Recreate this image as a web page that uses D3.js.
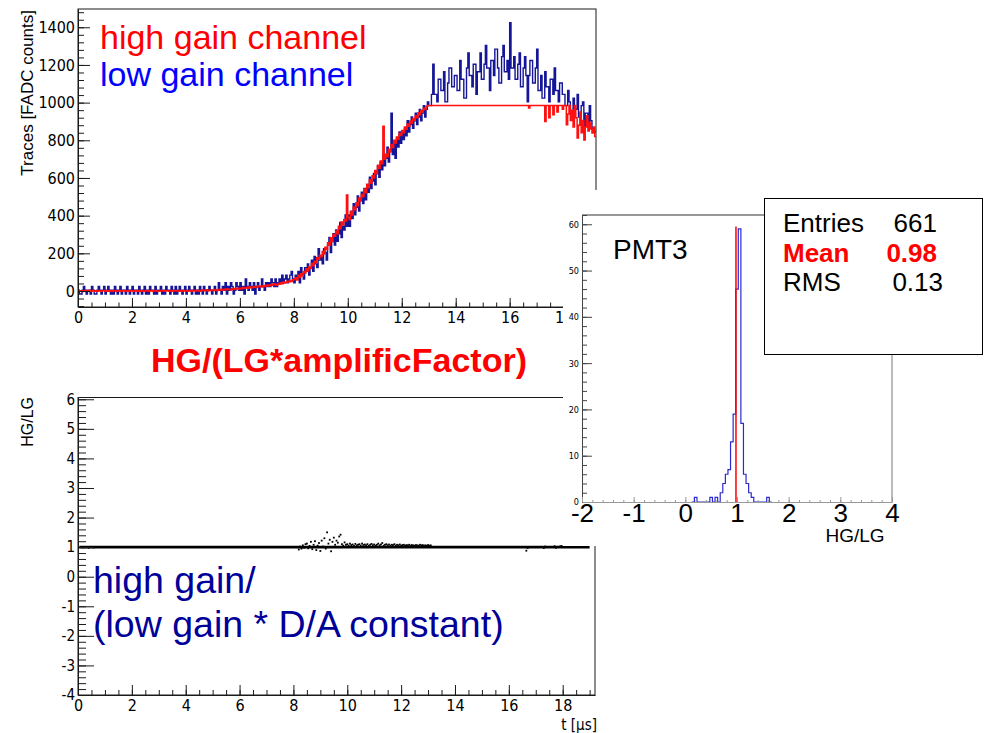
<!DOCTYPE html>
<html><head><meta charset="utf-8">
<script src="https://cdn.jsdelivr.net/npm/d3@7"></script>
<style>
html,body{margin:0;padding:0;background:#fff;}
svg{display:block;}
</style></head><body>
<svg id="chart" width="988" height="733"></svg>
<script>
// ---------- FADC traces, one value per 0.05 µs sample ----------
const sampleWidth = 0.05;
const lowGainTrace = [
  4,-16,-16,4,24,4,-16,4,4,-16, 24,4,-16,-16,4,24,4,-16,4,24,
  -16,4,24,4,-16,4,-16,24,4,-16, 4,24,-16,4,4,-16,24,4,-16,4,
  24,-16,4,4,-16,24,4,-16,4,24, -16,4,-16,24,4,4,-16,24,-16,4,
  4,24,-16,4,-16,24,4,4,-16,24, 4,-16,24,-16,4,24,4,-16,4,24,
  -16,4,24,4,-16,4,24,-16,4,-16, 24,4,-16,24,4,-16,4,24,4,-16,
  4,24,-16,4,44,4,-16,24,4,44, -16,24,4,44,24,-16,4,44,24,4,
  44,4,24,-16,64,24,4,44,24,4, 44,-16,24,44,4,24,64,24,4,44,
  24,44,24,64,44,24,64,24,44,64, 44,84,44,64,84,44,64,84,104,64,
  44,84,64,104,44,124,84,64,124,104, 144,84,124,164,104,184,144,124,224,164,
  184,144,224,204,164,244,284,204,264,304, 244,324,264,304,364,284,344,324,404,344,
  404,344,424,384,464,404,444,504,424,484, 524,464,544,484,564,524,604,544,584,624,
  564,624,664,604,684,644,724,664,704,764, 684,744,944,724,784,704,804,764,844,784,
  844,804,864,824,904,844,884,924,864,904, 944,884,924,964,904,944,984,924,964,1004,
  984,984,1044,1204,1044,1044,1004,1124,1124,1064, 1064,1164,1004,1004,1104,1184,1184,1084,1084,1144,
  1144,1064,1064,1224,1124,1124,1024,1024,1184,1264, 1144,1144,1084,1204,1204,1044,1164,1164,1264,1124,
  1124,1204,1304,1184,1184,1064,1224,1224,1144,1284, 1284,1184,1104,1104,1244,1304,1164,1164,1224,1124,
  1424,1184,1184,1244,1124,1124,1204,1264,1084,1084, 1184,1244,1144,1004,1144,1224,1224,1104,1104,1184,
  1284,1064,1064,1144,1024,1024,1164,1084,1084,1004, 1124,1124,1044,1184,1064,1064,1004,1104,1104,1044,
  1044,984,984,1064,1004,944,944,1024,964,964, 1044,924,924,984,1004,864,944,944,884,984,
  904,864,864,844
];
const highGainTrace = [
  2,-1,1,-3,0,2,-2,1,3,-1, 0,2,-2,1,-1,3,0,-2,1,2,
  -1,1,-2,2,0,-3,1,2,-1,0, 2,-2,1,0,3,-1,1,-2,2,0,
  1,-2,0,2,-1,3,-2,1,0,-1, 2,1,-3,0,2,-1,1,3,-2,0,
  -1,2,0,1,-2,3,1,-1,0,2, -2,1,3,0,-1,2,-2,1,0,3,
  1,-1,2,0,-2,3,1,4,0,2, -1,3,5,1,2,6,0,4,2,5,
  3,7,4,2,8,5,9,4,7,10, 6,11,8,5,12,9,13,10,14,11,
  15,12,18,14,16,20,15,22,17,19, 24,20,18,26,22,25,21,28,24,30,
  27,32,28,35,31,38,34,30,40,36, 44,39,48,42,46,52,48,56,50,60,
  62,70,58,84,72,92,80,104,96,118, 106,128,120,146,134,158,150,176,168,190,
  182,210,196,232,220,256,244,282,262,300, 290,318,304,344,330,366,350,380,372,510,
  392,378,420,404,446,430,468,452,494,478, 512,500,540,522,566,548,590,572,612,600,
  640,622,668,652,690,676,875,700,726,712, 752,738,778,762,800,786,818,806,838,826,
  852,840,870,858,886,874,902,890,916,906, 930,920,946,936,958,950,970,964,980,985,
  985,985,985,985,985,985,985,985,985,985, 985,985,985,985,985,985,985,985,985,985,
  985,985,985,985,985,985,985,985,985,985, 985,985,985,985,985,985,985,985,985,985,
  985,985,985,985,985,985,985,985,985,985, 985,985,985,985,985,985,985,985,985,985,
  985,985,985,985,985,985,985,985,985,985, 985,985,985,985,972,985,985,985,985,985,
  985,985,985,985,985,985,900,985,985,920, 985,985,935,985,985,950,985,985,985,965,
  985,985,882,940,985,905,960,870,985,920, 812,880,950,840,905,802,870,930,850,895,
  860,839,870,820
];
const traceTicksY = [0,200,400,600,800,1000,1200,1400];
const timeTicks = [0,2,4,6,8,10,12,14,16,18];

// ---------- HG/LG ratio per sample ----------
const ratioT = [
  0.1,0.2,0.3,0.4,0.5,0.6,
  8.2,8.25,8.3,8.35,8.4,8.45,8.5,8.55,8.6,8.65,8.7,8.75,8.8,8.85,8.9,8.95,
  9.0,9.05,9.1,9.15,9.2,9.25,9.3,9.35,9.4,9.45,9.5,9.55,9.6,9.65,9.7,9.75,9.8,9.85,9.9,9.95,
  10.0,10.05,10.1,10.15,10.2,10.25,10.3,10.35,10.4,10.45,10.5,10.55,10.6,10.65,10.7,10.75,10.8,10.85,10.9,10.95,
  11.0,11.05,11.1,11.15,11.2,11.25,11.3,11.35,11.4,11.45,11.5,11.55,11.6,11.65,11.7,11.75,11.8,11.85,11.9,11.95,
  12.0,12.05,12.1,12.15,12.2,12.25,12.3,12.35,12.4,12.45,12.5,12.55,12.6,12.65,12.7,12.75,12.8,12.85,12.9,12.95,
  13.0,13.05,13.1,
  16.65,16.7,17.3,17.35,17.7,17.75,17.9,17.95,18.2
];
const ratioValue = [
  1.0,0.99,1.0,0.98,1.0,0.99,
  0.92,1.02,0.95,1.06,0.98,1.1,1.12,0.96,1.04,1.18,0.93,1.08,1.2,0.9,1.05,1.14,
  0.87,1.22,1.02,1.3,0.95,1.5,1.12,1.25,0.86,1.18,1.32,1.08,1.22,1.15,1.36,1.42,1.1,1.05,1.16,1.08,
  1.1,1.05,1.12,1.07,1.09,1.04,1.11,1.06,1.08,1.1,1.05,1.12,1.07,1.09,1.06,1.1,1.04,1.08,1.11,1.06,
  1.09,1.05,1.08,1.12,1.06,1.09,1.14,1.05,1.08,1.1,1.06,1.09,1.05,1.08,1.07,1.1,1.05,1.08,1.06,1.09,
  1.05,1.07,1.08,1.05,1.07,1.06,1.08,1.05,1.07,1.06,1.05,1.07,1.06,1.05,1.08,1.06,1.07,1.05,1.06,1.05,
  1.07,1.05,1.06,
  0.88,0.97,0.97,1.02,1.03,0.98,1.02,1.04,1.0
];
const ratioTicksY = [-4,-3,-2,-1,0,1,2,3,4,5,6];

// ---------- PMT3 HG/LG histogram ----------
const histFirstEdge = 0.125;
const histBinWidth = 0.05;
const histCounts = [
  0,1,0,0,0,0,0,1,0,1,0,2,4,6,7,13,19,46,59,17,6,4,2,1,0,0,0,0,0,1,0
];
const histTicksX = [-2,-1,0,1,2,3,4];
const histTicksY = [0,10,20,30,40,50,60];
const statNames = ["Entries","Mean","RMS"];
const statValues = ["661","0.98","0.13"];
const meanValue = 0.98;

// ---------- drawing ----------
const svg = d3.select("#chart");
const narrow = '"Liberation Sans Narrow","DejaVu Sans Condensed",sans-serif';
const sans = '"Liberation Sans",Arial,sans-serif';
const axisColor = "#1a1a1a";
const range = (a, b, s) => d3.range(Math.round((b - a) / s) + 1).map(i => +(a + i * s).toFixed(4));

// ROOT-like axis: ticks point into the frame, labels outside
function rootAxis(g, o) {
  const mk = o.orient === "left" ? d3.axisLeft : d3.axisBottom;
  const minor = g.append("g").call(mk(o.scale).tickValues(o.minors).tickSize(-o.minorLen).tickSizeOuter(0).tickFormat(""));
  minor.select(".domain").remove();
  g.append("g").call(mk(o.scale).tickValues(o.majors).tickSize(-o.majorLen).tickSizeOuter(0)
    .tickPadding(o.pad).tickFormat(d => String(d)));
  g.selectAll("line,path").attr("stroke", o.color || axisColor).attr("stroke-width", o.width || 1);
  g.selectAll("text").attr("fill", "#000").style("font-family", o.font || narrow).style("font-size", o.fontSize + "px");
  return g;
}

function stepPath(x, y, first, width, vals) {
  const pts = vals.map((v, i) => [first + i * width, v]);
  pts.push([first + vals.length * width, vals[vals.length - 1]]);
  return d3.line().x(d => x(d[0])).y(d => y(d[1])).curve(d3.curveStepAfter)(pts);
}

// ===== top panel: traces =====
const xTop = d3.scaleLinear().domain([0, 19.2]).range([78, 596]);
const yTop = d3.scaleLinear().domain([-85, 1497]).range([307, 9]);
svg.append("clipPath").attr("id", "clipTop").append("rect")
  .attr("x", 78).attr("y", 9).attr("width", 518).attr("height", 298);
svg.append("rect").attr("x", 78).attr("y", 9).attr("width", 518).attr("height", 298)
  .attr("fill", "none").attr("stroke", axisColor).attr("stroke-width", 1);
const traces = svg.append("g").attr("clip-path", "url(#clipTop)");
traces.append("path").attr("d", stepPath(xTop, yTop, 0, sampleWidth, lowGainTrace))
  .attr("fill", "none").attr("stroke", "#151598").attr("stroke-width", 1.4);
traces.append("path").attr("d", stepPath(xTop, yTop, 0, sampleWidth, highGainTrace))
  .attr("fill", "none").attr("stroke", "#ff1010").attr("stroke-width", 1.5);
rootAxis(svg.append("g").attr("transform", "translate(78,0)"), {
  orient: "left", scale: yTop, majors: traceTicksY, minors: range(-80, 1480, 40),
  majorLen: 12, minorLen: 6, pad: 3, fontSize: 16 });
rootAxis(svg.append("g").attr("transform", "translate(0,307)"), {
  orient: "bottom", scale: xTop, majors: timeTicks, minors: range(0, 19, 0.5),
  majorLen: 9, minorLen: 4.5, pad: 5, fontSize: 16 });
svg.append("text").attr("transform", "translate(33,10) rotate(-90)").attr("text-anchor", "end")
  .style("font-family", sans).style("font-size", "17px").text("Traces [FADC counts]");
svg.append("text").attr("x", 100).attr("y", 49).attr("fill", "#ff0000")
  .style("font-family", sans).style("font-size", "34px").text("high gain channel");
svg.append("text").attr("x", 100).attr("y", 86).attr("fill", "#0000ff")
  .style("font-family", sans).style("font-size", "34px").text("low gain channel");

// ===== title between panels =====
svg.append("text").attr("x", 339).attr("y", 372).attr("text-anchor", "middle").attr("fill", "#ff0000")
  .style("font-family", sans).style("font-weight", "bold").style("font-size", "34px").text("HG/(LG*amplificFactor)");

// ===== bottom panel: ratio vs time =====
const xBot = d3.scaleLinear().domain([0, 19.2]).range([78, 595]);
const yBot = d3.scaleLinear().domain([-4, 6.06]).range([695, 397.5]);
svg.append("rect").attr("x", 78).attr("y", 397.5).attr("width", 517).attr("height", 297.5)
  .attr("fill", "none").attr("stroke", axisColor).attr("stroke-width", 1);
svg.append("line").attr("x1", xBot(0.05)).attr("x2", xBot(19.0)).attr("y1", yBot(1)).attr("y2", yBot(1))
  .attr("stroke", "#000").attr("stroke-width", 2.6);
svg.append("g").selectAll("rect").data(ratioT).join("rect")
  .attr("x", (d) => xBot(d) - 0.9).attr("y", (d, i) => yBot(ratioValue[i]) - 0.9)
  .attr("width", 1.8).attr("height", 1.8).attr("fill", "#000");
rootAxis(svg.append("g").attr("transform", "translate(78,0)"), {
  orient: "left", scale: yBot, majors: ratioTicksY, minors: range(-4, 6, 0.2),
  majorLen: 16, minorLen: 8, pad: 3, fontSize: 15 });
rootAxis(svg.append("g").attr("transform", "translate(0,695)"), {
  orient: "bottom", scale: xBot, majors: timeTicks, minors: range(0, 19, 0.5),
  majorLen: 10, minorLen: 5, pad: 5, fontSize: 16 });
svg.append("text").attr("x", 597).attr("y", 730).attr("text-anchor", "end")
  .style("font-family", narrow).style("font-size", "15px").text("t [µs]");
svg.append("text").attr("transform", "translate(33,397) rotate(-90)").attr("text-anchor", "end")
  .style("font-family", sans).style("font-size", "16px").text("HG/LG");
svg.append("text").attr("x", 93).attr("y", 593).attr("fill", "#000099")
  .style("font-family", sans).style("font-size", "37.5px").text("high gain/");
svg.append("text").attr("x", 93).attr("y", 637).attr("fill", "#000099")
  .style("font-family", sans).style("font-size", "37.5px").text("(low gain * D/A constant)");

// ===== inset pad: PMT3 histogram =====
svg.append("rect").attr("x", 563).attr("y", 190).attr("width", 425).attr("height", 356).attr("fill", "#fff");
const xH = d3.scaleLinear().domain([-2, 4]).range([582, 892]);
const yH = d3.scaleLinear().domain([0, 62]).range([502, 215]);
svg.append("line").attr("x1", 582).attr("x2", 892).attr("y1", 215).attr("y2", 215).attr("stroke", "#333");
svg.append("line").attr("x1", 892).attr("x2", 892).attr("y1", 215).attr("y2", 502).attr("stroke", "#777");
svg.append("path").attr("d", stepPath(xH, yH, histFirstEdge, histBinWidth, histCounts))
  .attr("fill", "none").attr("stroke", "#2a2ad0").attr("stroke-width", 1.2);
svg.append("line").attr("x1", xH(meanValue)).attr("x2", xH(meanValue)).attr("y1", yH(0)).attr("y2", yH(59.5))
  .attr("stroke", "#ff0000").attr("stroke-width", 1.5);
rootAxis(svg.append("g").attr("transform", "translate(582,0)"), {
  orient: "left", scale: yH, majors: histTicksY, minors: range(0, 62, 2),
  majorLen: 10, minorLen: 5, pad: 3, fontSize: 9, color: "#444" });
rootAxis(svg.append("g").attr("transform", "translate(0,502)"), {
  orient: "bottom", scale: xH, majors: histTicksX, minors: range(-2, 4, 0.2),
  majorLen: 5, minorLen: 2, pad: 2, fontSize: 26, font: sans, color: "#999" });
svg.append("text").attr("x", 855).attr("y", 542).attr("text-anchor", "middle")
  .style("font-family", sans).style("font-size", "19px").text("HG/LG");
svg.append("text").attr("x", 613).attr("y", 259)
  .style("font-family", sans).style("font-size", "28px").text("PMT3");

// statistics box
svg.append("rect").attr("x", 764.5).attr("y", 198.5).attr("width", 218).attr("height", 156)
  .attr("fill", "#fff").attr("stroke", "#000").attr("stroke-width", 1);
const statRight = [937, 937, 943];
statNames.forEach((name, i) => {
  const isMean = name === "Mean";
  const yy = 232 + i * 29.5;
  svg.append("text").attr("x", 783).attr("y", yy).attr("fill", isMean ? "#ff0000" : "#000")
    .style("font-family", sans).style("font-size", "26px").style("font-weight", isMean ? "bold" : "normal").text(name);
  svg.append("text").attr("x", statRight[i]).attr("y", yy).attr("text-anchor", "end").attr("fill", isMean ? "#ff0000" : "#000")
    .style("font-family", sans).style("font-size", "26px").style("font-weight", isMean ? "bold" : "normal").text(statValues[i]);
});
</script></body></html>
